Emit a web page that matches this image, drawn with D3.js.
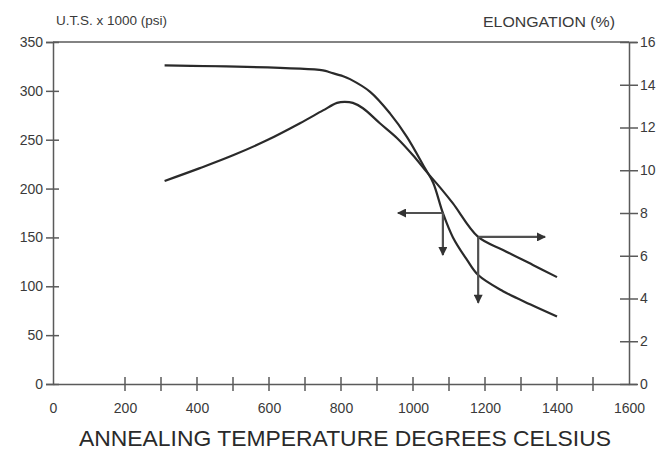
<!DOCTYPE html>
<html><head><meta charset="utf-8">
<script src="https://cdn.jsdelivr.net/npm/d3@7"></script>
<style>body{margin:0;background:#fff}svg{display:block}</style>
</head><body><svg id="c" width="666" height="450"></svg>
<script>
// ---- data ----
const xTickLabels = [0, 200, 400, 600, 800, 1000, 1200, 1400, 1600];
const xMinorTicks = [300, 500, 700, 900, 1100, 1300, 1500];
const utsTicks = [0, 50, 100, 150, 200, 250, 300, 350];
const elongTicks = [0, 2, 4, 6, 8, 10, 12, 14, 16];

const utsTemp  = [310, 750, 769, 806, 825, 881, 936, 983, 1033, 1056, 1083, 1111, 1150, 1181, 1250, 1325, 1400];
const utsValue = [326, 321, 319, 315, 312, 299, 277, 253, 221, 206, 175, 150, 127, 111.5, 95, 81.5, 69];

const elongTemp  = [310, 408, 500, 594, 686, 750, 789, 810, 833, 861, 908, 956, 1000, 1039, 1075, 1111, 1181, 1250, 1333, 1400];
const elongValue = [9.5, 10.1, 10.7, 11.4, 12.2, 12.8, 13.15, 13.2, 13.15, 12.9, 12.2, 11.5, 10.7, 9.9, 9.2, 8.45, 6.88, 6.27, 5.57, 5.0];

// reading arrows: [temperature, value, horizontal end temperature, vertical end value]
const utsArrow   = [1083, 175, 958, 132];     // left (U.T.S.) axis
const elongArrow = [1181, 6.88, 1367, 3.8];   // right (elongation) axis

// ---- drawing ----
const svg = d3.select('#c');
const x = d3.scaleLinear().domain([0, 1600]).range([53, 629]);
const yL = d3.scaleLinear().domain([0, 350]).range([384, 42]);
const yR = d3.scaleLinear().domain([0, 16]).range([384, 42]);

const axisColor = '#5a5a5a';
const textColor = '#3a3a3a';
const font = 'Liberation Sans, Arial, sans-serif';
const fmt = d3.format('d');

const defs = svg.append('defs');
defs.append('marker').attr('id', 'ah')
  .attr('viewBox', '0 0 10 10').attr('refX', 9).attr('refY', 5)
  .attr('markerWidth', 11).attr('markerHeight', 9).attr('markerUnits', 'userSpaceOnUse')
  .attr('orient', 'auto')
  .append('path').attr('d', 'M0,0 L10,5 L0,10 Z').attr('fill', '#333');

// top frame line
svg.append('line').attr('x1', x(0)).attr('x2', x(1600)).attr('y1', yL(350)).attr('y2', yL(350))
  .attr('stroke', axisColor).attr('stroke-width', 1.5);

// left axis
const gL = svg.append('g').attr('transform', `translate(${x(0)},0)`)
  .call(d3.axisLeft(yL).tickValues(utsTicks).tickFormat(fmt).tickSize(7).tickPadding(3));
// right axis
const gR = svg.append('g').attr('transform', `translate(${x(1600)},0)`)
  .call(d3.axisRight(yR).tickValues(elongTicks).tickFormat(fmt).tickSize(8).tickPadding(3));
// bottom axis
const gB = svg.append('g').attr('transform', `translate(0,${yL(0)})`)
  .call(d3.axisBottom(x).tickValues(xTickLabels).tickFormat(fmt).tickSize(0).tickPadding(19));

[gL, gR, gB].forEach(g => {
  g.select('.domain').attr('stroke', axisColor).attr('stroke-width', 1.5);
  g.selectAll('.tick line').attr('stroke', axisColor).attr('stroke-width', 1.5);
  g.selectAll('.tick text').attr('fill', textColor).style('font-family', font).style('font-size', '14px');
});
// ticks crossing the axes
gL.selectAll('.tick line').attr('x2', -7).attr('x1', 6);
gR.selectAll('.tick line').attr('x1', -9).attr('x2', 9);
gB.selectAll('.tick line').remove();
const allXTicks = xTickLabels.filter(d => d > 0 && d < 1600).concat(xMinorTicks);
svg.append('g').selectAll('line').data(allXTicks).join('line')
  .attr('x1', d => x(d)).attr('x2', d => x(d))
  .attr('y1', yL(0) - 7).attr('y2', yL(0) + 7)
  .attr('stroke', axisColor).attr('stroke-width', 1.5);

// curves
const lineU = d3.line().x((d, i) => x(utsTemp[i])).y(d => yL(d)).curve(d3.curveCatmullRom.alpha(0.5));
const lineE = d3.line().x((d, i) => x(elongTemp[i])).y(d => yR(d)).curve(d3.curveCatmullRom.alpha(0.5));
svg.append('path').attr('d', lineU(utsValue)).attr('fill', 'none').attr('stroke', '#2a2a2a').attr('stroke-width', 2.2);
svg.append('path').attr('d', lineE(elongValue)).attr('fill', 'none').attr('stroke', '#2a2a2a').attr('stroke-width', 2.2);

// reading arrows
function arrow(x1, y1, x2, y2) {
  svg.append('line').attr('x1', x1).attr('y1', y1).attr('x2', x2).attr('y2', y2)
    .attr('stroke', '#505050').attr('stroke-width', 2.2).attr('marker-end', 'url(#ah)');
}
arrow(x(utsArrow[0]), yL(utsArrow[1]), x(utsArrow[2]), yL(utsArrow[1]));
arrow(x(utsArrow[0]), yL(utsArrow[1]), x(utsArrow[0]), yL(utsArrow[3]));
arrow(x(elongArrow[0]), yR(elongArrow[1]), x(elongArrow[2]), yR(elongArrow[1]));
arrow(x(elongArrow[0]), yR(elongArrow[1]), x(elongArrow[0]), yR(elongArrow[3]));

// titles
svg.append('text').attr('x', 56).attr('y', 25).text('U.T.S. x 1000 (psi)')
  .attr('fill', textColor).style('font-family', font).style('font-size', '13.5px');
svg.append('text').attr('x', 483).attr('y', 27).text('ELONGATION (%)')
  .attr('fill', textColor).style('font-family', font).style('font-size', '15.5px')
  .attr('textLength', 132).attr('lengthAdjust', 'spacingAndGlyphs');
svg.append('text').attr('x', 345).attr('y', 446).attr('text-anchor', 'middle')
  .text('ANNEALING TEMPERATURE DEGREES CELSIUS')
  .attr('fill', '#2a2a2a').style('font-family', font).style('font-size', '22px')
  .attr('textLength', 532).attr('lengthAdjust', 'spacingAndGlyphs');
</script></body></html>
